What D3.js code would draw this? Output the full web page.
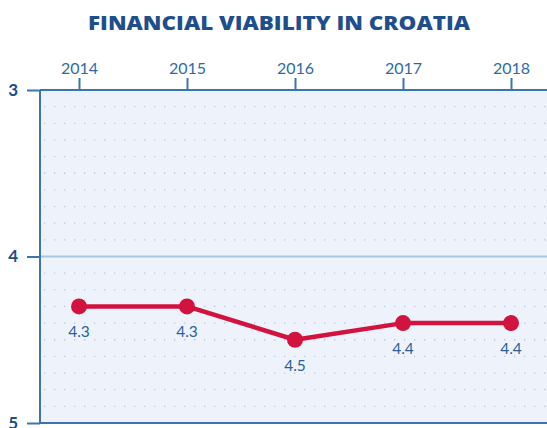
<!DOCTYPE html>
<html><head><meta charset="utf-8">
<script src="https://cdn.jsdelivr.net/npm/d3@7"></script>
<style>body{margin:0;background:#fff}svg{display:block}</style>
</head><body>
<svg id="c" width="547" height="428"></svg>
<script>
const title = "FINANCIAL VIABILITY IN CROATIA";
const years = ["2014","2015","2016","2017","2018"];
const values = [4.3, 4.3, 4.5, 4.4, 4.4];
const valueLabels = ["4.3","4.3","4.5","4.4","4.4"];
const yTicks = [3, 4, 5];

(function(){
const svg = d3.select("#c");
const mLeft = 40, mTop = 90, mBottom = 423, mRight = 560;
const x = d3.scalePoint().domain(years).range([79, 511]);
const y = d3.scaleLinear().domain([3, 5]).range([mTop, mBottom]);

svg.append("rect").attr("x", mLeft).attr("y", mTop).attr("width", mRight-mLeft).attr("height", mBottom-mTop).attr("fill", "#eef3fb");

// dotted grid
const gridVals = d3.range(31, 50).map(d => d/10).filter(v => Math.abs(v-4) > 1e-6);
svg.append("g").selectAll("line").data(gridVals).join("line")
  .attr("x1", mLeft+4).attr("x2", mRight).attr("y1", d => y(d)).attr("y2", d => y(d))
  .attr("stroke", "#b8c6da").attr("stroke-width", 1.3).attr("stroke-dasharray", "1.3,8.7");

// y=4 solid line
svg.append("line").attr("x1", mLeft).attr("x2", mRight).attr("y1", y(4)).attr("y2", y(4))
  .attr("stroke", "#a8c6e2").attr("stroke-width", 2);

// top axis
const topAxis = d3.axisTop(x).tickSize(12).tickPadding(4);
const gt = svg.append("g").attr("transform", `translate(0,${mTop})`).call(topAxis);
gt.select(".domain").remove();
gt.selectAll(".tick line").attr("stroke", "#3a75b0").attr("stroke-width", 2);
gt.selectAll(".tick text").attr("fill", "#2e6aa6").attr("font-family", "Lato, sans-serif").attr("font-size", 16);
svg.append("line").attr("x1", mLeft).attr("x2", mRight).attr("y1", mTop).attr("y2", mTop).attr("stroke", "#3a75b0").attr("stroke-width", 2);

// left axis
const leftAxis = d3.axisLeft(y).tickValues(yTicks).tickSize(13).tickPadding(9).tickFormat(d3.format("d"));
const gl = svg.append("g").attr("transform", `translate(${mLeft},0)`).call(leftAxis);
gl.select(".domain").remove();
gl.selectAll(".tick line").attr("stroke", "#3a75b0").attr("stroke-width", 2);
gl.selectAll(".tick text").attr("fill", "#1d4d86").attr("font-family", "Lato, sans-serif").attr("font-weight", "bold").attr("font-size", 17);
svg.append("line").attr("x1", mLeft).attr("x2", mLeft).attr("y1", mTop).attr("y2", mBottom).attr("stroke", "#3a75b0").attr("stroke-width", 2);
svg.append("line").attr("x1", mLeft).attr("x2", mRight).attr("y1", mBottom).attr("y2", mBottom).attr("stroke", "#3a75b0").attr("stroke-width", 2);

// line
const line = d3.line().x((d,i) => x(years[i])).y(d => y(d));
svg.append("path").datum(values).attr("d", line).attr("fill", "none").attr("stroke", "#d2123f").attr("stroke-width", 4.5).attr("stroke-linejoin", "round");
svg.append("g").selectAll("circle").data(values).join("circle")
  .attr("cx", (d,i) => x(years[i])).attr("cy", d => y(d)).attr("r", 8).attr("fill", "#d2123f");
svg.append("g").selectAll("text").data(values).join("text")
  .attr("x", (d,i) => x(years[i])).attr("y", d => y(d) + 31).attr("text-anchor", "middle")
  .attr("fill", "#2a5f9a").attr("font-family", "Lato, sans-serif").attr("font-size", 15.5)
  .text((d,i) => valueLabels[i]);

// title
svg.append("text").attr("x", 279).attr("y", 30).attr("text-anchor", "middle")
  .attr("fill", "#1f4e8c").attr("font-family", "'Open Sans', sans-serif").attr("font-weight", "800").attr("font-size", 19.5)
  .attr("textLength", 382).attr("lengthAdjust", "spacingAndGlyphs").text(title);
})();
</script>
</body></html>
